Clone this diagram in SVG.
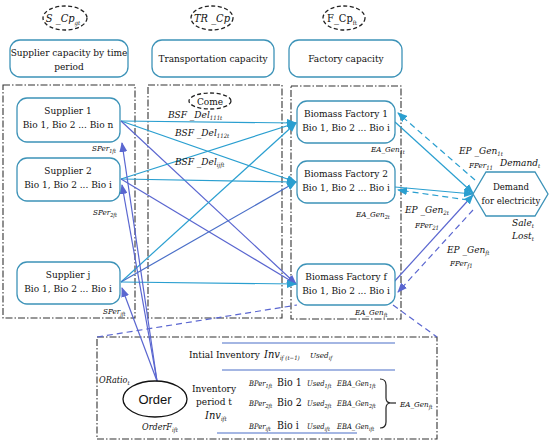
<svg xmlns="http://www.w3.org/2000/svg" width="550" height="445" viewBox="0 0 550 445">
<style>
.box{fill:#fff;stroke:#3d93b8;stroke-width:1.3}
.dd{fill:none;stroke:#333;stroke-width:1.1;stroke-dasharray:7 2 1.5 2}
.el{fill:#fff;stroke:#222;stroke-width:1.3;stroke-dasharray:4 2.5}
.c{text-anchor:middle}
.i{font-style:italic}
.cy{stroke:#2a9fd0;stroke-width:1.2;fill:none}
.pu{stroke:#5a66d0;stroke-width:1.2;fill:none}
.dcy{stroke:#2a9fd0;stroke-width:1.2;fill:none;stroke-dasharray:6 4}
.dpu{stroke:#5a66d0;stroke-width:1.2;fill:none;stroke-dasharray:6 4}
.bl{stroke:#4a6fc8;stroke-width:1.2;fill:none}
</style>
<defs>
<marker id="ac" markerWidth="10" markerHeight="8" refX="9" refY="4" orient="auto" markerUnits="userSpaceOnUse"><path d="M0,0 L10,4 L0,8 Z" fill="#2a9fd0"/></marker>
<marker id="ap" markerWidth="10" markerHeight="8" refX="9" refY="4" orient="auto" markerUnits="userSpaceOnUse"><path d="M0,0 L10,4 L0,8 Z" fill="#5a66d0"/></marker>
</defs>
<rect width="550" height="445" fill="#fff"/>

<g id="frames">
<rect class="dd" x="3" y="85" width="132" height="233"/>
<rect class="dd" x="148" y="85" width="134" height="233"/>
<rect class="dd" x="291" y="86" width="110" height="233"/>
<rect class="dd" x="97" y="337" width="340" height="102"/>
</g>

<g id="connectors">
<line class="cy" x1="121" y1="121" x2="296" y2="123" marker-end="url(#ac)"/>
<line class="cy" x1="121" y1="121" x2="296" y2="182" marker-end="url(#ac)"/>
<line class="pu" x1="121" y1="121" x2="296" y2="284" marker-end="url(#ap)"/>
<line class="cy" x1="121" y1="179" x2="296" y2="123" marker-end="url(#ac)"/>
<line class="cy" x1="121" y1="179" x2="296" y2="182" marker-end="url(#ac)"/>
<line class="pu" x1="121" y1="179" x2="296" y2="284" marker-end="url(#ap)"/>
<line class="cy" x1="121" y1="282" x2="296" y2="123" marker-end="url(#ac)"/>
<line class="bl" x1="121" y1="282" x2="296" y2="182" marker-end="url(#ac)"/>
<line class="cy" x1="121" y1="282" x2="296" y2="284" marker-end="url(#ac)"/>
<line class="pu" x1="157" y1="381" x2="122" y2="143" marker-end="url(#ap)"/>
<line class="pu" x1="157" y1="381" x2="122" y2="185" marker-end="url(#ap)"/>
<line class="pu" x1="157" y1="381" x2="122" y2="288" marker-end="url(#ap)"/>
<line class="cy" x1="395" y1="122" x2="473" y2="193" marker-end="url(#ac)"/>
<line class="cy" x1="395" y1="187" x2="473" y2="194" marker-end="url(#ac)"/>
<line class="pu" x1="393" y1="283" x2="473" y2="195" marker-end="url(#ac)"/>
<line class="dcy" x1="475" y1="180" x2="398" y2="113" marker-end="url(#ac)"/>
<line class="dcy" x1="468" y1="200" x2="398" y2="190" marker-end="url(#ac)"/>
<line class="dpu" x1="473" y1="210" x2="398" y2="292" marker-end="url(#ap)"/>
<line class="dpu" x1="97" y1="337" x2="297" y2="305"/>
<line class="dpu" x1="393" y1="305" x2="437" y2="337"/>
</g>

<g font-family="DejaVu Serif Condensed, DejaVu Serif, serif" fill="#111">
<g id="s_cp"><ellipse class="el" cx="65" cy="18" rx="22" ry="12"/><text class="i c" x="63" y="22" font-size="11">S _Cp<tspan font-size="6" dy="3">gt</tspan></text></g>
<g id="tr_cp"><ellipse class="el" cx="212" cy="18" rx="21" ry="12"/><text class="i c" x="212" y="22" font-size="11">TR _Cp</text></g>
<g id="f_cp"><ellipse class="el" cx="344" cy="18" rx="21" ry="12"/><text class="c" x="342" y="22" font-size="11">F_Cp<tspan font-size="6" dy="3">ft</tspan></text></g>

<g id="supcap"><rect class="box" x="10" y="40" width="118" height="37" rx="10"/><text class="c" x="69" y="56" font-size="10">Supplier capacity by time</text><text class="c" x="69" y="70" font-size="10">period</text></g>
<g id="trcap"><rect class="box" x="152" y="40" width="122" height="37" rx="10"/><text class="c" x="213" y="62" font-size="10">Transportation capacity</text></g>
<g id="fcap"><rect class="box" x="289" y="40" width="113" height="37" rx="10"/><text class="c" x="346" y="62" font-size="10">Factory capacity</text></g>

<g id="supplier1"><rect class="box" x="17" y="98" width="103" height="44" rx="10"/><text class="c" x="68" y="114" font-size="10">Supplier  1</text><text class="c" x="68" y="128" font-size="10">Bio 1, Bio 2 ... Bio n</text></g>
<g id="supplier2"><rect class="box" x="17" y="158" width="103" height="43" rx="10"/><text class="c" x="68" y="174" font-size="10">Supplier  2</text><text class="c" x="68" y="188" font-size="10">Bio 1, Bio 2 ... Bio i</text></g>
<g id="supplierj"><rect class="box" x="17" y="262" width="103" height="42" rx="10"/><text class="c" x="68" y="278" font-size="10">Supplier  j</text><text class="c" x="68" y="292" font-size="10">Bio 1, Bio 2 ... Bio i</text></g>
<text class="i" x="92" y="151" font-size="8">SPer<tspan font-size="5.5" dy="2">1ft</tspan></text>
<text class="i" x="93" y="215" font-size="8">SPer<tspan font-size="5.5" dy="2">2ft</tspan></text>
<text class="i" x="103" y="314" font-size="8">SPer<tspan font-size="5.5" dy="2">jft</tspan></text>

<g id="come"><ellipse class="el" cx="210" cy="101" rx="21" ry="8"/><text class="c" x="210" y="105" font-size="10">Come</text></g>
<text class="i" x="168" y="118" font-size="10">BSF _Del<tspan font-size="6" dy="2">111t</tspan></text>
<text class="i" x="175" y="136" font-size="10">BSF _Del<tspan font-size="6" dy="2">112t</tspan></text>
<text class="i" x="175" y="165" font-size="10">BSF _Del<tspan font-size="6" dy="2">ijft</tspan></text>

<g id="factory1"><rect class="box" x="297" y="101" width="98" height="42" rx="10"/><text class="c" x="346" y="117" font-size="10">Biomass Factory  1</text><text class="c" x="346" y="131" font-size="10">Bio 1, Bio 2 ... Bio i</text></g>
<g id="factory2"><rect class="box" x="297" y="161" width="98" height="42" rx="10"/><text class="c" x="346" y="177" font-size="10">Biomass Factory  2</text><text class="c" x="346" y="191" font-size="10">Bio 1, Bio 2 ... Bio i</text></g>
<g id="factoryf"><rect class="box" x="297" y="264" width="98" height="41" rx="10"/><text class="c" x="346" y="280" font-size="10">Biomass Factory  f</text><text class="c" x="346" y="294" font-size="10">Bio 1, Bio 2 ... Bio i</text></g>
<text class="i" x="371" y="152" font-size="8">EA_Gen<tspan font-size="5.5" dy="2">1t</tspan></text>
<text class="i" x="356" y="217" font-size="8">EA_Gen<tspan font-size="5.5" dy="2">2t</tspan></text>
<text class="i" x="355" y="315" font-size="8">EA_Gen<tspan font-size="5.5" dy="2">ft</tspan></text>

<g id="demand"><polygon points="473,194 486,172 535,172 548,194 535,216 486,216" fill="#fff" stroke="#3d93b8" stroke-width="1.3"/><text class="c" x="511" y="190" font-size="9.5">Demand</text><text class="c" x="511" y="204" font-size="9.5">for electricity</text></g>
<text class="i" x="500" y="166" font-size="10">Demand<tspan font-size="6" dy="2">t</tspan></text>
<text class="i" x="512" y="226" font-size="10">Sale<tspan font-size="6" dy="2">t</tspan></text>
<text class="i" x="512" y="239" font-size="10">Lost<tspan font-size="6" dy="2">t</tspan></text>
<text class="i" x="459" y="154" font-size="10">EP _Gen<tspan font-size="6" dy="2">1t</tspan></text>
<text class="i" x="469" y="168" font-size="8">FPer<tspan font-size="6" dy="2">11</tspan></text>
<text class="i" x="405" y="213" font-size="10">EP _Gen<tspan font-size="6" dy="2">2t</tspan></text>
<text class="i" x="415" y="228" font-size="8">FPer<tspan font-size="6" dy="2">21</tspan></text>
<text class="i" x="447" y="253" font-size="10">EP _Gen<tspan font-size="6" dy="2">ft</tspan></text>
<text class="i" x="450" y="266" font-size="8">FPer<tspan font-size="6" dy="2">f1</tspan></text>

<g id="order"><ellipse cx="155" cy="399" rx="32" ry="18" fill="#fff" stroke="#111" stroke-width="1.3"/><text class="c" x="155" y="404" font-size="13" font-family="Liberation Sans, Arial, sans-serif">Order</text></g>
<text class="i" x="99" y="383" font-size="9">ORatio<tspan font-size="6" dy="2">t</tspan></text>
<text class="i" x="142" y="430" font-size="9">OrderF<tspan font-size="6" dy="2">ift</tspan></text>
<g id="inventory">
<line class="bl" x1="222" y1="343" x2="395" y2="343"/>
<line class="bl" x1="222" y1="370" x2="395" y2="370"/>
<line class="bl" x1="217" y1="433" x2="357" y2="433"/>
<text x="189" y="358" font-size="10">Intial Inventory</text>
<text class="i" x="264" y="358" font-size="11">Inv<tspan font-size="6" dy="2">if (t−1)</tspan></text>
<text class="i" x="310" y="358" font-size="8">Used<tspan font-size="5.5" dy="2">if</tspan></text>
<text class="c" x="214" y="392" font-size="10">Inventory</text>
<text class="c" x="214" y="405" font-size="10">period t</text>
<text class="i" x="205" y="419" font-size="11">Inv<tspan font-size="6" dy="2">ift</tspan></text>
<text class="i" x="249" y="386" font-size="7.5">BPer<tspan font-size="5.5" dy="2">1ft</tspan></text>
<text x="277" y="386" font-size="10.5">Bio 1</text>
<text class="i" x="307" y="386" font-size="7.5">Used<tspan font-size="5.5" dy="2">1ft</tspan></text>
<text class="i" x="337" y="386" font-size="7.5">EBA_Gen<tspan font-size="5.5" dy="2">1ft</tspan></text>
<text class="i" x="249" y="406" font-size="7.5">BPer<tspan font-size="5.5" dy="2">2ft</tspan></text>
<text x="277" y="406" font-size="10.5">Bio 2</text>
<text class="i" x="307" y="406" font-size="7.5">Used<tspan font-size="5.5" dy="2">2ft</tspan></text>
<text class="i" x="337" y="406" font-size="7.5">EBA_Gen<tspan font-size="5.5" dy="2">2ft</tspan></text>
<text class="i" x="249" y="429" font-size="7.5">BPer<tspan font-size="5.5" dy="2">ift</tspan></text>
<text x="277" y="429" font-size="10.5">Bio i</text>
<text class="i" x="307" y="429" font-size="7.5">Used<tspan font-size="5.5" dy="2">ift</tspan></text>
<text class="i" x="337" y="429" font-size="7.5">EBA_Gen<tspan font-size="5.5" dy="2">ift</tspan></text>
<path d="M380,379 Q386,379 386,385 L386,398 Q386,403 391,403 Q386,403 386,408 L386,422 Q386,428 380,428" fill="none" stroke="#222" stroke-width="1.2"/>
<line x1="391" y1="403" x2="396" y2="403" stroke="#222" stroke-width="1.2"/>
<text class="i" x="400" y="407" font-size="8">EA_Gen<tspan font-size="5.5" dy="2">ft</tspan></text>
</g>
</g>
</svg>
